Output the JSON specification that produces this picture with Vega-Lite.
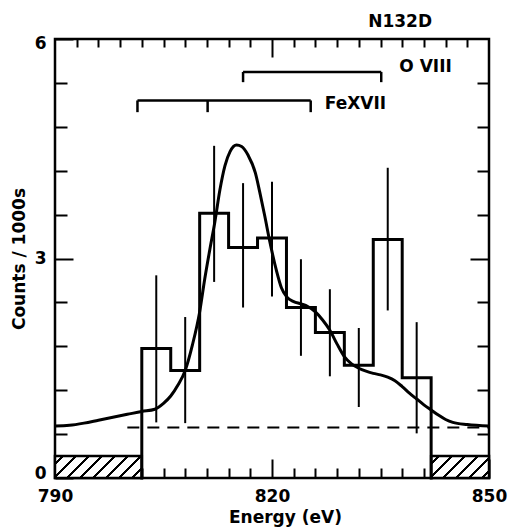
{
  "$schema": "https://vega.github.io/schema/vega-lite/v6.json",
  "autosize": "none",
  "padding": {"left": 55, "top": 39, "right": 19, "bottom": 54},
  "width": 434,
  "height": 439,
  "title": {"text": "N132D", "anchor": "end", "frame": "group", "dx": -57, "offset": -10, "baseline": "alphabetic", "font": "DejaVu Sans", "fontWeight": "bold", "fontSize": 17, "color": "black"},
  "resolve": {"axis": {"x": "independent", "y": "independent"}},
  "layer": [
    {
      "data": {"values": [{"region": "below 802 eV", "energy": 790, "energy_end": 802, "counts": 0, "counts_end": 0.3}]},
      "mark": {"type": "rect", "stroke": "black", "strokeWidth": 2.5,
        "fill": {"gradient": "linear", "x1": 0, "y1": 0, "x2": 1.1778, "y2": 0.2985, "stops": [
          {"offset": 0, "color": "white"},
          {"offset": 0.0597, "color": "white"}, {"offset": 0.0597, "color": "black"}, {"offset": 0.0873, "color": "black"}, {"offset": 0.0873, "color": "white"},
          {"offset": 0.1792, "color": "white"}, {"offset": 0.1792, "color": "black"}, {"offset": 0.2068, "color": "black"}, {"offset": 0.2068, "color": "white"},
          {"offset": 0.2987, "color": "white"}, {"offset": 0.2987, "color": "black"}, {"offset": 0.3263, "color": "black"}, {"offset": 0.3263, "color": "white"},
          {"offset": 0.4182, "color": "white"}, {"offset": 0.4182, "color": "black"}, {"offset": 0.4458, "color": "black"}, {"offset": 0.4458, "color": "white"},
          {"offset": 0.5377, "color": "white"}, {"offset": 0.5377, "color": "black"}, {"offset": 0.5653, "color": "black"}, {"offset": 0.5653, "color": "white"},
          {"offset": 0.6572, "color": "white"}, {"offset": 0.6572, "color": "black"}, {"offset": 0.6847, "color": "black"}, {"offset": 0.6847, "color": "white"},
          {"offset": 0.7767, "color": "white"}, {"offset": 0.7767, "color": "black"}, {"offset": 0.8042, "color": "black"}, {"offset": 0.8042, "color": "white"},
          {"offset": 0.8961, "color": "white"}, {"offset": 0.8961, "color": "black"}, {"offset": 0.9237, "color": "black"}, {"offset": 0.9237, "color": "white"},
          {"offset": 1, "color": "white"}]}},
      "encoding": {
        "x": {"field": "energy", "type": "quantitative", "scale": {"domain": [790, 850], "nice": false, "zero": false},
          "axis": {"orient": "bottom", "title": "Energy (eV)", "values": [790, 820, 850], "format": "d", "tickSize": -19,
            "labelPadding": 29, "labelFlush": false, "labelOverlap": false, "titlePadding": 5, "titleX": 230, "titleAlign": "center"}},
        "x2": {"field": "energy_end"},
        "y": {"field": "counts", "type": "quantitative", "scale": {"domain": [0, 6], "nice": false, "zero": false},
          "axis": {"orient": "left", "title": "Counts / 1000s", "values": [0, 3, 6], "format": "d", "tickSize": -18,
            "labelPadding": 27, "labelOverlap": false, "labelFlush": true, "labelFlushOffset": 4, "titlePadding": 6}},
        "y2": {"field": "counts_end"}
      }
    },
    {
      "data": {"values": [{"region": "above 842 eV", "energy": 842, "energy_end": 850, "counts": 0, "counts_end": 0.3}]},
      "mark": {"type": "rect", "stroke": "black", "strokeWidth": 2.5,
        "fill": {"gradient": "linear", "x1": 0, "y1": 0, "x2": 1.2059, "y2": 0.4582, "stops": [
          {"offset": 0, "color": "white"},
          {"offset": 0.0814, "color": "white"}, {"offset": 0.0814, "color": "black"}, {"offset": 0.1189, "color": "black"}, {"offset": 0.1189, "color": "white"},
          {"offset": 0.2441, "color": "white"}, {"offset": 0.2441, "color": "black"}, {"offset": 0.2816, "color": "black"}, {"offset": 0.2816, "color": "white"},
          {"offset": 0.4068, "color": "white"}, {"offset": 0.4068, "color": "black"}, {"offset": 0.4443, "color": "black"}, {"offset": 0.4443, "color": "white"},
          {"offset": 0.5695, "color": "white"}, {"offset": 0.5695, "color": "black"}, {"offset": 0.6070, "color": "black"}, {"offset": 0.6070, "color": "white"},
          {"offset": 0.7322, "color": "white"}, {"offset": 0.7322, "color": "black"}, {"offset": 0.7697, "color": "black"}, {"offset": 0.7697, "color": "white"},
          {"offset": 0.8949, "color": "white"}, {"offset": 0.8949, "color": "black"}, {"offset": 0.9324, "color": "black"}, {"offset": 0.9324, "color": "white"},
          {"offset": 1, "color": "white"}]}},
      "encoding": {
        "x": {"field": "energy", "type": "quantitative", "scale": {"domain": [790, 850], "nice": false, "zero": false},
          "axis": {"orient": "top", "title": null, "labels": false, "tickSize": -8,
            "values": [793, 796, 799, 802, 805, 808, 811, 814, 817, 823, 826, 829, 832, 835, 838, 841, 844, 847]}},
        "x2": {"field": "energy_end"},
        "y": {"field": "counts", "type": "quantitative", "scale": {"domain": [0, 6], "nice": false, "zero": false},
          "axis": {"orient": "right", "title": null, "labels": false, "tickSize": -12,
            "values": [0.6, 1.2, 1.8, 2.4, 3.6, 4.2, 4.8, 5.4]}},
        "y2": {"field": "counts_end"}
      }
    },
    {
      "data": {"values": [{"component": "background", "energy": 800, "energy_end": 850, "counts": 0.69}]},
      "mark": {"type": "rule", "stroke": "black", "strokeWidth": 2, "strokeDash": [12, 8]},
      "encoding": {
        "x": {"field": "energy", "type": "quantitative", "scale": {"domain": [790, 850], "nice": false, "zero": false},
          "axis": {"orient": "bottom", "title": null, "labels": false, "tickSize": -10,
            "values": [793, 796, 799, 802, 805, 808, 811, 814, 817, 823, 826, 829, 832, 835, 838, 841, 844, 847]}},
        "x2": {"field": "energy_end"},
        "y": {"field": "counts", "type": "quantitative", "scale": {"domain": [0, 6], "nice": false, "zero": false},
          "axis": {"orient": "left", "title": null, "labels": false, "tickSize": -12,
            "values": [0.6, 1.2, 1.8, 2.4, 3.6, 4.2, 4.8, 5.4]}}
      }
    },
    {
      "data": {"values": [
        {"energy": 804, "low": 0.76, "high": 2.77},
        {"energy": 808, "low": 0.75, "high": 2.20},
        {"energy": 812, "low": 2.68, "high": 4.54},
        {"energy": 816, "low": 2.33, "high": 4.03},
        {"energy": 820, "low": 2.48, "high": 4.05},
        {"energy": 824, "low": 1.67, "high": 2.99},
        {"energy": 828, "low": 1.39, "high": 2.58},
        {"energy": 832, "low": 0.97, "high": 2.05},
        {"energy": 836, "low": 2.29, "high": 4.24},
        {"energy": 840, "low": 0.61, "high": 2.13}
      ]},
      "mark": {"type": "rule", "stroke": "black", "strokeWidth": 2},
      "encoding": {
        "x": {"field": "energy", "type": "quantitative", "scale": {"domain": [790, 850], "nice": false, "zero": false},
          "axis": {"orient": "top", "title": null, "labels": false, "tickSize": -18, "values": [820]}},
        "y": {"field": "low", "type": "quantitative", "scale": {"domain": [0, 6], "nice": false, "zero": false},
          "axis": {"orient": "right", "title": null, "labels": false, "tickSize": -19, "values": [3]}},
        "y2": {"field": "high"}
      }
    },
    {
      "data": {"values": [
        {"i": 0, "energy": 802, "counts": 0},
        {"i": 1, "energy": 802, "counts": 1.77},
        {"i": 2, "energy": 806, "counts": 1.47},
        {"i": 3, "energy": 810, "counts": 3.62},
        {"i": 4, "energy": 814, "counts": 3.15},
        {"i": 5, "energy": 818, "counts": 3.28},
        {"i": 6, "energy": 822, "counts": 2.33},
        {"i": 7, "energy": 826, "counts": 1.99},
        {"i": 8, "energy": 830, "counts": 1.54},
        {"i": 9, "energy": 834, "counts": 3.26},
        {"i": 10, "energy": 838, "counts": 1.37},
        {"i": 11, "energy": 842, "counts": 1.37},
        {"i": 12, "energy": 842, "counts": 0}
      ]},
      "mark": {"type": "line", "interpolate": "step-after", "stroke": "black", "strokeWidth": 3, "strokeJoin": "miter", "strokeCap": "square"},
      "encoding": {
        "x": {"field": "energy", "type": "quantitative", "scale": {"domain": [790, 850], "nice": false, "zero": false}, "axis": null},
        "y": {"field": "counts", "type": "quantitative", "scale": {"domain": [0, 6], "nice": false, "zero": false}, "axis": null},
        "order": {"field": "i", "type": "quantitative"}
      }
    },
    {
      "data": {"values": [
        {"energy": 790, "counts": 0.71}, {"energy": 792, "counts": 0.72}, {"energy": 794, "counts": 0.75},
        {"energy": 796, "counts": 0.79}, {"energy": 798, "counts": 0.83}, {"energy": 800, "counts": 0.87},
        {"energy": 802, "counts": 0.91}, {"energy": 803.8, "counts": 0.94}, {"energy": 805, "counts": 1.02},
        {"energy": 806, "counts": 1.12}, {"energy": 807, "counts": 1.27}, {"energy": 808, "counts": 1.47},
        {"energy": 809, "counts": 1.82}, {"energy": 810, "counts": 2.27}, {"energy": 810.7, "counts": 2.72},
        {"energy": 811.4, "counts": 3.12}, {"energy": 812.1, "counts": 3.5}, {"energy": 812.8, "counts": 3.94},
        {"energy": 813.5, "counts": 4.27}, {"energy": 814.2, "counts": 4.46}, {"energy": 815.1, "counts": 4.55},
        {"energy": 815.8, "counts": 4.53}, {"energy": 816.7, "counts": 4.41}, {"energy": 817.7, "counts": 4.17},
        {"energy": 818.3, "counts": 3.91}, {"energy": 819.0, "counts": 3.58}, {"energy": 819.7, "counts": 3.23},
        {"energy": 820.6, "counts": 2.84}, {"energy": 821.3, "counts": 2.6}, {"energy": 822, "counts": 2.48},
        {"energy": 823, "counts": 2.41}, {"energy": 824, "counts": 2.38}, {"energy": 825, "counts": 2.34},
        {"energy": 826, "counts": 2.27}, {"energy": 827, "counts": 2.16}, {"energy": 828, "counts": 2.02},
        {"energy": 829, "counts": 1.83}, {"energy": 830, "counts": 1.66}, {"energy": 831, "counts": 1.56},
        {"energy": 832, "counts": 1.5}, {"energy": 833, "counts": 1.46}, {"energy": 834, "counts": 1.43},
        {"energy": 835, "counts": 1.41}, {"energy": 836, "counts": 1.38}, {"energy": 837, "counts": 1.33},
        {"energy": 838, "counts": 1.25}, {"energy": 839, "counts": 1.16}, {"energy": 840, "counts": 1.08},
        {"energy": 841, "counts": 1.0}, {"energy": 842, "counts": 0.93}, {"energy": 843, "counts": 0.86},
        {"energy": 844, "counts": 0.8}, {"energy": 845, "counts": 0.76}, {"energy": 847, "counts": 0.73},
        {"energy": 850, "counts": 0.71}
      ]},
      "mark": {"type": "line", "interpolate": "monotone", "stroke": "black", "strokeWidth": 3},
      "encoding": {
        "x": {"field": "energy", "type": "quantitative", "scale": {"domain": [790, 850], "nice": false, "zero": false}, "axis": null},
        "y": {"field": "counts", "type": "quantitative", "scale": {"domain": [0, 6], "nice": false, "zero": false}, "axis": null}
      }
    },
    {
      "data": {"values": [
        {"ion": "Fe XVII", "energy": 801.4, "energy_end": 825.35, "level": 5.16},
        {"ion": "O VIII", "energy": 816.0, "energy_end": 835.1, "level": 5.55}
      ]},
      "mark": {"type": "rule", "stroke": "black", "strokeWidth": 2.5},
      "encoding": {
        "x": {"field": "energy", "type": "quantitative", "scale": {"domain": [790, 850], "nice": false, "zero": false}, "axis": null},
        "x2": {"field": "energy_end"},
        "y": {"field": "level", "type": "quantitative", "scale": {"domain": [0, 6], "nice": false, "zero": false}, "axis": null}
      }
    },
    {
      "data": {"values": [
        {"ion": "Fe XVII", "energy": 801.4, "top": 5.16, "bottom": 5.0},
        {"ion": "Fe XVII", "energy": 811.1, "top": 5.16, "bottom": 5.0},
        {"ion": "Fe XVII", "energy": 825.35, "top": 5.16, "bottom": 5.0},
        {"ion": "O VIII", "energy": 816.0, "top": 5.55, "bottom": 5.41},
        {"ion": "O VIII", "energy": 835.1, "top": 5.55, "bottom": 5.41}
      ]},
      "mark": {"type": "rule", "stroke": "black", "strokeWidth": 2.5},
      "encoding": {
        "x": {"field": "energy", "type": "quantitative", "scale": {"domain": [790, 850], "nice": false, "zero": false}, "axis": null},
        "y": {"field": "bottom", "type": "quantitative", "scale": {"domain": [0, 6], "nice": false, "zero": false}, "axis": null},
        "y2": {"field": "top"}
      }
    },
    {
      "data": {"values": [
        {"label": "FeXVII", "energy": 827.3, "counts": 5.11},
        {"label": "O VIII", "energy": 837.6, "counts": 5.62}
      ]},
      "mark": {"type": "text", "align": "left", "baseline": "middle", "font": "DejaVu Sans", "fontWeight": "bold", "fontSize": 17, "fill": "black"},
      "encoding": {
        "x": {"field": "energy", "type": "quantitative", "scale": {"domain": [790, 850], "nice": false, "zero": false}, "axis": null},
        "y": {"field": "counts", "type": "quantitative", "scale": {"domain": [0, 6], "nice": false, "zero": false}, "axis": null},
        "text": {"field": "label"}
      }
    }
  ],
  "config": {
    "background": "white",
    "view": {"stroke": "black", "strokeWidth": 2.5},
    "axis": {"domain": false, "grid": false, "tickColor": "black", "tickWidth": 2,
      "labelFont": "DejaVu Sans", "labelFontWeight": "bold", "labelFontSize": 17, "labelColor": "black",
      "titleFont": "DejaVu Sans", "titleFontWeight": "bold", "titleFontSize": 17, "titleColor": "black"}
  }
}
